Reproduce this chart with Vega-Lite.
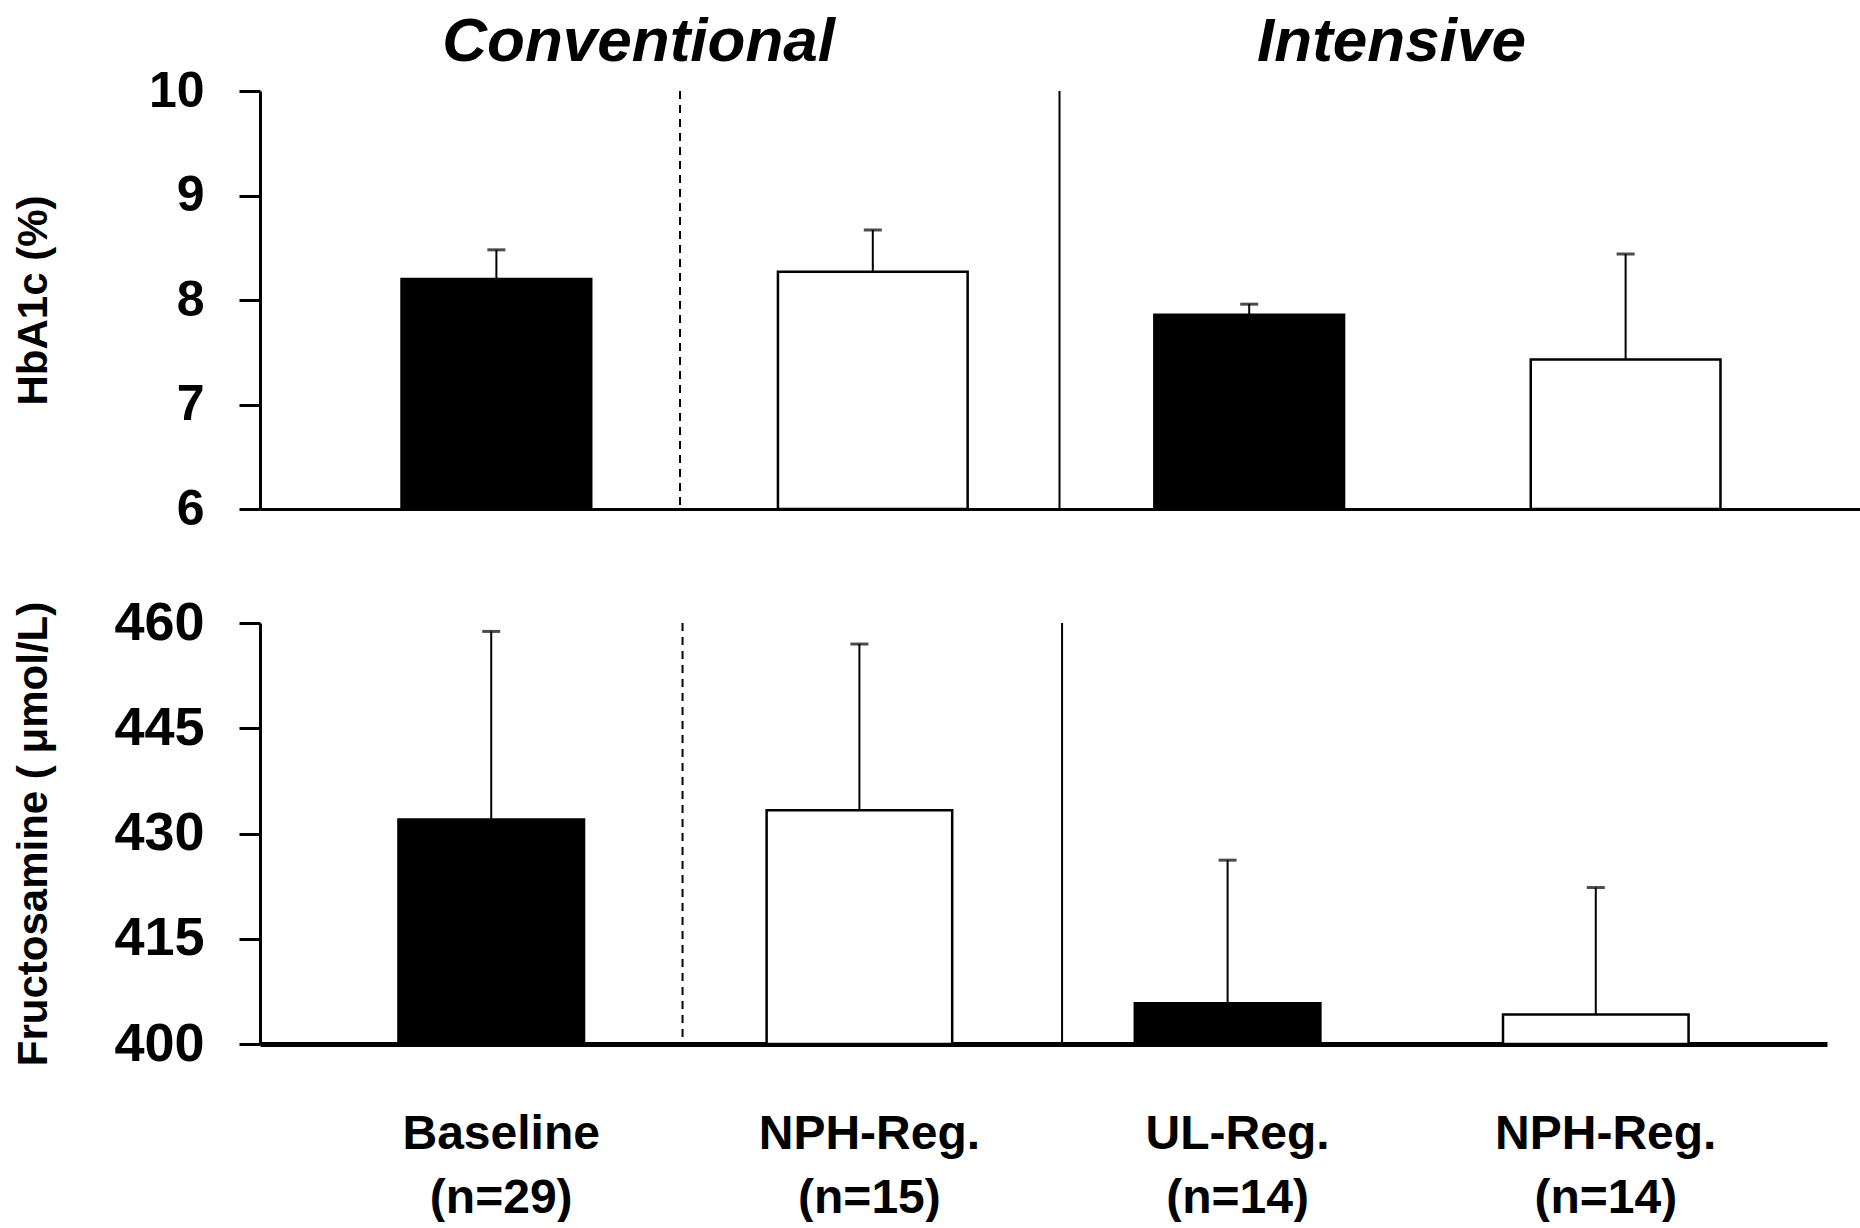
{
  "$schema": "https://vega.github.io/schema/vega-lite/v6.json",
  "background": "white",
  "padding": {"left": 11, "top": 10, "right": 0, "bottom": 0},
  "config": {
    "view": {"stroke": null},
    "font": "Liberation Sans",
    "axis": {
      "grid": false,
      "domainColor": "black",
      "tickColor": "black",
      "labelColor": "black",
      "titleColor": "black",
      "labelFont": "Liberation Sans",
      "titleFont": "Liberation Sans",
      "labelFontWeight": "bold",
      "titleFontWeight": "bold"
    }
  },
  "datasets": {
    "hba1c": [
      {"arm": "Baseline (n=29)", "regimen": "Baseline", "mean": 8.2, "upper": 8.48},
      {"arm": "NPH-Reg. (n=15)", "regimen": "NPH-Reg.", "mean": 8.27, "upper": 8.67},
      {"arm": "UL-Reg. (n=14)", "regimen": "UL-Reg.", "mean": 7.86, "upper": 7.96},
      {"arm": "NPH-Reg. (n=14)", "regimen": "NPH-Reg.", "mean": 7.43, "upper": 8.44}
    ],
    "fructosamine": [
      {"arm": "Baseline (n=29)", "regimen": "Baseline", "mean": 432.0, "upper": 458.8},
      {"arm": "NPH-Reg. (n=15)", "regimen": "NPH-Reg.", "mean": 433.3, "upper": 457.0},
      {"arm": "UL-Reg. (n=14)", "regimen": "UL-Reg.", "mean": 405.8, "upper": 426.2},
      {"arm": "NPH-Reg. (n=14)", "regimen": "NPH-Reg.", "mean": 404.2, "upper": 422.3}
    ],
    "groups": [
      {"arm": "Baseline (n=29)", "label": "Conventional"},
      {"arm": "UL-Reg. (n=14)", "label": "Intensive"}
    ]
  },
  "resolve": {"scale": {"x": "independent", "y": "independent"}},
  "spacing": 62,
  "vconcat": [
    {
      "width": 1602,
      "height": 418,
      "encoding": {
        "x": {
          "field": "arm", "type": "nominal", "sort": null,
          "scale": {"domain": ["Baseline (n=29)", "NPH-Reg. (n=15)", "UL-Reg. (n=14)", "NPH-Reg. (n=14)"], "paddingInner": 0.496, "paddingOuter": 0.376},
          "axis": {"title": null, "labels": false, "ticks": false, "domain": true, "domainWidth": 3}
        }
      },
      "layer": [
        {
          "data": {"name": "hba1c"},
          "mark": {"type": "rule", "color": "black", "strokeWidth": 2},
          "encoding": {
            "y": {
              "field": "mean", "type": "quantitative",
              "scale": {"domain": [6, 10], "zero": false, "nice": false},
              "axis": {
                "title": "HbA1c (%)", "values": [6, 7, 8, 9, 10], "format": "d",
                "tickSize": 21, "tickWidth": 3, "domainWidth": 3,
                "labelFontSize": 50, "labelPadding": 35,
                "titleFontSize": 42, "titleX": -205, "titleBaseline": "bottom"
              }
            },
            "y2": {"field": "upper"}
          }
        },
        {
          "data": {"name": "hba1c"},
          "mark": {"type": "tick", "color": "black", "thickness": 3, "size": 18},
          "encoding": {"y": {"field": "upper", "type": "quantitative"}}
        },
        {
          "data": {"name": "hba1c"},
          "mark": {"type": "bar", "stroke": "black", "strokeWidth": 2.5},
          "encoding": {
            "y": {"field": "mean", "type": "quantitative"},
            "y2": {"datum": 6},
            "fill": {"field": "regimen", "type": "nominal", "scale": {"domain": ["Baseline", "UL-Reg.", "NPH-Reg."], "range": ["black", "black", "white"]}, "legend": null}
          }
        },
        {
          "data": {"name": "groups"},
          "transform": [{"filter": "datum.label === 'Conventional'"}],
          "mark": {"type": "rule", "color": "black", "strokeWidth": 2, "strokeDash": [8, 6]},
          "encoding": {
            "x": {"field": "arm", "type": "nominal", "bandPosition": 1.468},
            "y": {"datum": 10, "type": "quantitative"},
            "y2": {"datum": 6}
          }
        },
        {
          "data": {"name": "groups"},
          "transform": [{"filter": "datum.label === 'Intensive'"}],
          "mark": {"type": "rule", "color": "black", "strokeWidth": 2},
          "encoding": {
            "x": {"field": "arm", "type": "nominal", "bandPosition": -0.5},
            "y": {"datum": 10, "type": "quantitative"},
            "y2": {"datum": 6}
          }
        },
        {
          "data": {"name": "groups"},
          "mark": {"type": "text", "color": "black", "fontSize": 62, "fontWeight": "bold", "fontStyle": "italic", "baseline": "middle", "align": "center"},
          "encoding": {
            "x": {"field": "arm", "type": "nominal", "bandPosition": 1.25},
            "y": {"datum": 10.47, "type": "quantitative"},
            "text": {"field": "label"}
          }
        }
      ]
    },
    {
      "width": 1567,
      "height": 421,
      "encoding": {
        "x": {
          "field": "arm", "type": "nominal", "sort": null,
          "scale": {"domain": ["Baseline (n=29)", "NPH-Reg. (n=15)", "UL-Reg. (n=14)", "NPH-Reg. (n=14)"], "paddingInner": 0.496, "paddingOuter": 0.376},
          "axis": {
            "title": null, "ticks": false, "tickSize": 0, "domainWidth": 5,
            "labelFontSize": 48, "labelPadding": 66, "labelLineHeight": 64, "labelAngle": 0,
            "labelBaseline": "top", "labelLimit": 0, "labelOffset": 10,
            "labelExpr": "[slice(datum.label, 0, indexof(datum.label, ' (')), slice(datum.label, indexof(datum.label, ' (') + 1)]"
          }
        }
      },
      "layer": [
        {
          "data": {"name": "fructosamine"},
          "mark": {"type": "rule", "color": "black", "strokeWidth": 2},
          "encoding": {
            "y": {
              "field": "mean", "type": "quantitative",
              "scale": {"domain": [400, 460], "zero": false, "nice": false},
              "axis": {
                "title": "Fructosamine ( μmol/L)", "values": [400, 415, 430, 445, 460],
                "tickSize": 21, "tickWidth": 3, "domainWidth": 3,
                "labelFontSize": 54, "labelPadding": 35,
                "titleFontSize": 42, "titleX": -205, "titleBaseline": "bottom"
              }
            },
            "y2": {"field": "upper"}
          }
        },
        {
          "data": {"name": "fructosamine"},
          "mark": {"type": "tick", "color": "black", "thickness": 3, "size": 18},
          "encoding": {"y": {"field": "upper", "type": "quantitative"}}
        },
        {
          "data": {"name": "fructosamine"},
          "mark": {"type": "bar", "stroke": "black", "strokeWidth": 2.5},
          "encoding": {
            "y": {"field": "mean", "type": "quantitative"},
            "y2": {"datum": 400},
            "fill": {"field": "regimen", "type": "nominal", "scale": {"domain": ["Baseline", "UL-Reg.", "NPH-Reg."], "range": ["black", "black", "white"]}, "legend": null}
          }
        },
        {
          "data": {"name": "groups"},
          "transform": [{"filter": "datum.label === 'Conventional'"}],
          "mark": {"type": "rule", "color": "black", "strokeWidth": 2, "strokeDash": [8, 6]},
          "encoding": {
            "x": {"field": "arm", "type": "nominal", "bandPosition": 1.531},
            "y": {"datum": 460, "type": "quantitative"},
            "y2": {"datum": 400}
          }
        },
        {
          "data": {"name": "groups"},
          "transform": [{"filter": "datum.label === 'Intensive'"}],
          "mark": {"type": "rule", "color": "black", "strokeWidth": 2},
          "encoding": {
            "x": {"field": "arm", "type": "nominal", "bandPosition": -0.392},
            "y": {"datum": 460, "type": "quantitative"},
            "y2": {"datum": 400}
          }
        }
      ]
    }
  ]
}
